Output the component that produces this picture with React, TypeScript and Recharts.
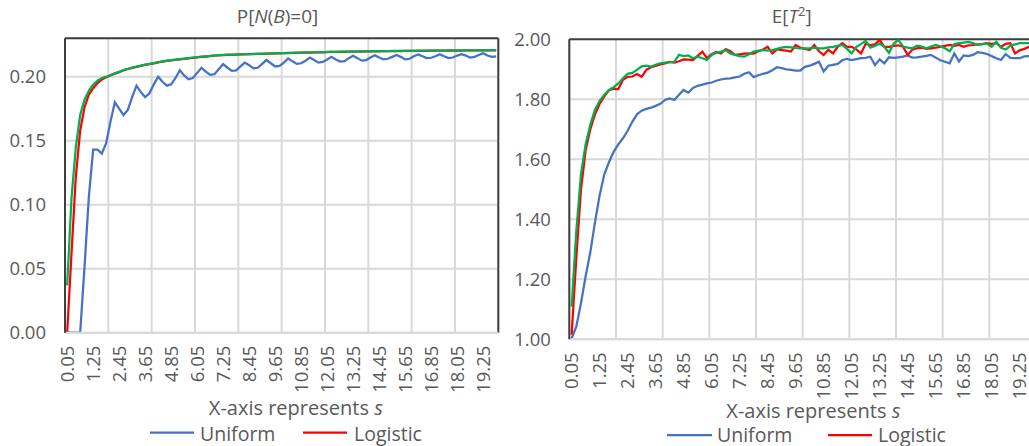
import { CartesianGrid, Line, LineChart, ReferenceLine, XAxis, YAxis } from 'recharts';

const FONT = '"Open Sans", "DejaVu Sans", sans-serif';
const TEXT = '#595959';
const FRAME = '#404040';
const GRID = '#d9d9d9';
const BLUE = '#4472C4';
const RED = '#FF0000';
const GREEN = '#00B050';

// s values (x categories)
const sValues = [
	0.05, 0.25, 0.45, 0.65, 0.85, 1.05, 1.25, 1.45, 1.65, 1.85,
	2.05, 2.25, 2.45, 2.65, 2.85, 3.05, 3.25, 3.45, 3.65, 3.85,
	4.05, 4.25, 4.45, 4.65, 4.85, 5.05, 5.25, 5.45, 5.65, 5.85,
	6.05, 6.25, 6.45, 6.65, 6.85, 7.05, 7.25, 7.45, 7.65, 7.85,
	8.05, 8.25, 8.45, 8.65, 8.85, 9.05, 9.25, 9.45, 9.65, 9.85,
	10.05, 10.25, 10.45, 10.65, 10.85, 11.05, 11.25, 11.45, 11.65, 11.85,
	12.05, 12.25, 12.45, 12.65, 12.85, 13.05, 13.25, 13.45, 13.65, 13.85,
	14.05, 14.25, 14.45, 14.65, 14.85, 15.05, 15.25, 15.45, 15.65, 15.85,
	16.05, 16.25, 16.45, 16.65, 16.85, 17.05, 17.25, 17.45, 17.65, 17.85,
	18.05, 18.25, 18.45, 18.65, 18.85, 19.05, 19.25, 19.45, 19.65, 19.85
];

const xTickLabels = [0.05, 1.25, 2.45, 3.65, 4.85, 6.05, 7.25, 8.45, 9.65, 10.85, 12.05, 13.25, 14.45, 15.65, 16.85, 18.05, 19.25];
const xGridLines = [-0.05, 1.95, 3.95, 5.95, 7.95, 9.95, 11.95, 13.95, 15.95, 17.95, 19.95];
const xDomain: [number, number] = [-0.05, 19.95];

// P[N(B)=0]
const pTicks = [0, 0.05, 0.1, 0.15, 0.2];
const pUniform = [
	0, 0, 0, 0, 0.051, 0.106, 0.143, 0.143, 0.14, 0.148,
	0.165, 0.18, 0.175, 0.17, 0.174, 0.184, 0.193, 0.188, 0.184, 0.187,
	0.194, 0.2, 0.196, 0.193, 0.194, 0.199, 0.205, 0.201, 0.198, 0.199,
	0.203, 0.207, 0.204, 0.2015, 0.202, 0.206, 0.2098, 0.207, 0.2046, 0.205,
	0.208, 0.211, 0.209, 0.2065, 0.207, 0.21, 0.213, 0.2105, 0.208, 0.2085,
	0.211, 0.2142, 0.212, 0.21, 0.2105, 0.2125, 0.215, 0.213, 0.211, 0.2115,
	0.2135, 0.2155, 0.2135, 0.2118, 0.2122, 0.2145, 0.2163, 0.2145, 0.2125, 0.213,
	0.215, 0.2168, 0.215, 0.2135, 0.214, 0.2155, 0.217, 0.2155, 0.2135, 0.214,
	0.216, 0.2173, 0.216, 0.2145, 0.2148, 0.216, 0.2176, 0.216, 0.2145, 0.215,
	0.2165, 0.2176, 0.2165, 0.215, 0.2155, 0.217, 0.2184, 0.2165, 0.2155, 0.2158
];
const pLogistic = [
	0, 0.062, 0.122, 0.158, 0.176, 0.186, 0.191, 0.195, 0.1978, 0.1995,
	0.201, 0.2024, 0.2036, 0.205, 0.206, 0.2069, 0.2077, 0.2085, 0.2092, 0.2098,
	0.2104, 0.2112, 0.2118, 0.2123, 0.2128, 0.2132, 0.2136, 0.214, 0.2144, 0.2148,
	0.2151, 0.2154, 0.2157, 0.216, 0.2164, 0.2166, 0.2168, 0.217, 0.2171, 0.2172,
	0.2174, 0.2175, 0.2176, 0.2177, 0.2178, 0.2179, 0.218, 0.2181, 0.2182, 0.2183,
	0.2184, 0.2185, 0.2186, 0.2187, 0.2188, 0.2189, 0.2189, 0.219, 0.2191, 0.2191,
	0.2192, 0.2193, 0.2193, 0.2194, 0.2194, 0.2195, 0.2195, 0.2196, 0.2196, 0.2197,
	0.2197, 0.2198, 0.2198, 0.2199, 0.2199, 0.22, 0.22, 0.22, 0.2201, 0.2201,
	0.2201, 0.2202, 0.2202, 0.2202, 0.2203, 0.2203, 0.2203, 0.2203, 0.2204, 0.2204,
	0.2204, 0.2204, 0.2205, 0.2205, 0.2205, 0.2205, 0.2205, 0.2206, 0.2206, 0.2206
];
const pThird = [
	0.037, 0.105, 0.145, 0.17, 0.182, 0.189, 0.194, 0.197, 0.199, 0.2,
	0.2013, 0.2026, 0.2038, 0.2052, 0.2062, 0.2071, 0.2079, 0.2087, 0.2094, 0.21,
	0.2106, 0.2114, 0.212, 0.2125, 0.213, 0.2134, 0.2138, 0.2142, 0.2146, 0.215,
	0.2153, 0.2156, 0.2159, 0.2162, 0.2166, 0.2168, 0.217, 0.2172, 0.2173, 0.2174,
	0.2175, 0.2176, 0.2177, 0.2178, 0.2179, 0.218, 0.2181, 0.2182, 0.2183, 0.2184,
	0.2185, 0.2186, 0.2187, 0.2188, 0.2189, 0.219, 0.219, 0.2191, 0.2192, 0.2192,
	0.2193, 0.2194, 0.2194, 0.2195, 0.2195, 0.2196, 0.2196, 0.2197, 0.2197, 0.2198,
	0.2198, 0.2199, 0.2199, 0.22, 0.22, 0.2201, 0.2201, 0.2201, 0.2202, 0.2202,
	0.2202, 0.2203, 0.2203, 0.2203, 0.2204, 0.2204, 0.2204, 0.2204, 0.2205, 0.2205,
	0.2205, 0.2205, 0.2206, 0.2206, 0.2206, 0.2206, 0.2206, 0.2207, 0.2207, 0.2207
];

// E[T^2]
const eTicks = [1, 1.2, 1.4, 1.6, 1.8, 2];
const eUniform = [
	1.003, 1.042, 1.12, 1.21, 1.29, 1.39, 1.48, 1.55, 1.59, 1.625,
	1.65, 1.67, 1.695, 1.725, 1.75, 1.762, 1.768, 1.772, 1.778, 1.785,
	1.798, 1.803, 1.798, 1.815, 1.831, 1.822, 1.838, 1.845, 1.849, 1.853,
	1.856, 1.862, 1.866, 1.869, 1.87, 1.873, 1.876, 1.885, 1.89, 1.874,
	1.88, 1.885, 1.889, 1.897, 1.907, 1.904, 1.9, 1.898, 1.896, 1.896,
	1.908, 1.912, 1.918, 1.925, 1.893, 1.912, 1.915, 1.918, 1.93, 1.935,
	1.931, 1.934, 1.937, 1.938, 1.942, 1.914, 1.933, 1.92, 1.94, 1.938,
	1.94, 1.942, 1.946, 1.939, 1.94, 1.942, 1.945, 1.948, 1.939, 1.93,
	1.925, 1.92, 1.953, 1.926, 1.946, 1.944, 1.948, 1.957, 1.955, 1.951,
	1.944, 1.937, 1.931, 1.951, 1.938, 1.937, 1.937, 1.943, 1.944, 1.94
];
const eLogistic = [
	1.015, 1.27, 1.5, 1.63, 1.7, 1.75, 1.785, 1.81, 1.83, 1.835,
	1.834, 1.865, 1.875, 1.876, 1.884, 1.875, 1.898, 1.907, 1.911, 1.916,
	1.92, 1.925, 1.922, 1.927, 1.933, 1.932, 1.931, 1.945, 1.959, 1.937,
	1.95, 1.958, 1.953, 1.967, 1.96, 1.948, 1.95, 1.952, 1.953, 1.952,
	1.96, 1.966, 1.975, 1.953, 1.966, 1.964, 1.962, 1.959, 1.981, 1.972,
	1.968, 1.964, 1.981, 1.96, 1.948, 1.965, 1.953, 1.975, 1.987, 1.975,
	1.975, 1.966, 1.953, 1.985, 1.981, 1.983, 1.998, 1.975, 1.975, 1.978,
	1.98, 1.975, 1.948, 1.965, 1.97, 1.972, 1.968, 1.97, 1.972, 1.975,
	1.978, 1.981, 1.978, 1.981, 1.975, 1.98, 1.981, 1.983, 1.984, 1.987,
	1.985, 1.987, 1.975, 1.985, 1.987, 1.953, 1.963, 1.968, 1.975, 1.978
];
const eThird = [
	1.109, 1.36, 1.55, 1.65, 1.715, 1.765, 1.795, 1.815, 1.831, 1.84,
	1.853, 1.87, 1.885, 1.888, 1.898, 1.91, 1.912, 1.909, 1.915, 1.92,
	1.922, 1.923, 1.925, 1.948, 1.944, 1.946, 1.937, 1.942, 1.937, 1.931,
	1.948, 1.955, 1.959, 1.964, 1.953, 1.948, 1.944, 1.942, 1.95, 1.959,
	1.962, 1.964, 1.962, 1.964, 1.968, 1.972, 1.975, 1.973, 1.971, 1.97,
	1.97, 1.97, 1.972, 1.97, 1.97, 1.973, 1.975, 1.978, 1.981, 1.968,
	1.953, 1.975, 1.984, 1.995, 1.972, 1.978, 1.986, 1.975, 1.955, 1.985,
	1.998, 1.976, 1.972, 1.97, 1.979, 1.976, 1.97, 1.976, 1.981, 1.977,
	1.97, 1.96, 1.984, 1.987, 1.989, 1.991, 1.987, 1.982, 1.984, 1.986,
	1.975, 1.992, 1.972, 1.966, 1.979, 1.983, 1.987, 1.987, 1.987, 1.988
];

const pData = sValues.map((s, i) => ({ s, uniform: pUniform[i], logistic: pLogistic[i], third: pThird[i] }));
const eData = sValues.map((s, i) => ({ s, uniform: eUniform[i], logistic: eLogistic[i], third: eThird[i] }));

function RotatedTick({ x, y, payload }: { x?: number; y?: number; payload?: { value: number } }) {
	return (
		<text
			x={x}
			y={y}
			dy="0.36em"
			transform={`rotate(-90, ${x}, ${y})`}
			textAnchor="end"
			fill={TEXT}
			fontSize={18.5}
			fontFamily={FONT}
		>
			{Number(payload?.value ?? 0).toFixed(2)}
		</text>
	);
}

type LegendItem = { label: string; color: string; x1: number; x2: number; textX: number };

type PanelProps = {
	left: number;
	width: number;
	data: typeof pData;
	yDomain: [number, number];
	yTicks: number[];
	yAxisWidth: number;
	yTickMargin: number;
	margin: { top: number; right: number; bottom: number };
	title: React.ReactNode;
	titleX: number;
	axisTitleX: number;
	axisTitleY: number;
	legendLineY: number;
	legendTextY: number;
	legend: LegendItem[];
};

function Panel(props: PanelProps) {
	const { left, width, data, yDomain, yTicks, margin } = props;
	return (
		<div style={{ position: 'absolute', left, top: 0, width, height: 446 }}>
			<LineChart
				width={width}
				height={446}
				data={data}
				margin={{ top: margin.top, right: margin.right, bottom: margin.bottom, left: 0 }}
			>
				<CartesianGrid xAxisId="grid" stroke={GRID} strokeWidth={2} />
				<XAxis
					dataKey="s"
					type="number"
					domain={xDomain}
					allowDataOverflow
					ticks={xTickLabels}
					interval={0}
					height={60}
					tickLine={false}
					tickMargin={7}
					axisLine={{ stroke: GRID, strokeWidth: 2 }}
					tick={<RotatedTick />}
				/>
				<XAxis xAxisId="grid" dataKey="s" type="number" domain={xDomain} allowDataOverflow ticks={xGridLines} hide />
				<YAxis
					type="number"
					domain={yDomain}
					allowDataOverflow
					ticks={yTicks}
					width={props.yAxisWidth}
					tickLine={false}
					tickMargin={props.yTickMargin}
					axisLine={{ stroke: FRAME, strokeWidth: 2 }}
					tickFormatter={(v: number) => v.toFixed(2)}
					tick={{ fill: TEXT, fontSize: 18.5, fontFamily: FONT }}
				/>
				<ReferenceLine y={yDomain[1]} stroke={FRAME} strokeWidth={2} />
				<ReferenceLine x={xDomain[1]} stroke={FRAME} strokeWidth={2} />
				<Line dataKey="uniform" name="Uniform" stroke={BLUE} strokeWidth={2.25} dot={false} isAnimationActive={false} />
				<Line dataKey="logistic" name="Logistic" stroke={RED} strokeWidth={2.25} dot={false} isAnimationActive={false} />
				<Line dataKey="third" stroke={GREEN} strokeWidth={2.25} dot={false} isAnimationActive={false} />
			</LineChart>
			<svg
				width={width}
				height={446}
				style={{ position: 'absolute', left: 0, top: 0, pointerEvents: 'none' }}
				fontFamily={FONT}
			>
				<text x={props.titleX} y={22.5} textAnchor="middle" fontSize={19} fill={TEXT}>
					{props.title}
				</text>
				<text x={props.axisTitleX} y={props.axisTitleY} textAnchor="middle" fontSize={20} fill={TEXT}>
					X-axis represents <tspan fontStyle="italic">s</tspan>
				</text>
				{props.legend.map((item) => (
					<g key={item.label}>
						<line
							x1={item.x1}
							x2={item.x2}
							y1={props.legendLineY}
							y2={props.legendLineY}
							stroke={item.color}
							strokeWidth={2.25}
						/>
						<text x={item.textX} y={props.legendTextY} fontSize={19.5} fill={TEXT}>
							{item.label}
						</text>
					</g>
				))}
			</svg>
		</div>
	);
}

export default function App() {
	return (
		<div
			style={{
				position: 'absolute',
				left: 0,
				top: 0,
				width: 1029,
				height: 446,
				overflow: 'hidden',
				background: '#ffffff'
			}}
		>
			<Panel
				left={0}
				width={510}
				data={pData}
				yDomain={[0, 0.23]}
				yTicks={pTicks}
				yAxisWidth={65}
				yTickMargin={13}
				margin={{ top: 38.3, right: 11.7, bottom: 53.3 }}
				title={
					<>
						P[<tspan fontStyle="italic">N</tspan>(<tspan fontStyle="italic">B</tspan>)=0]
					</>
				}
				titleX={277.5}
				axisTitleX={295.8}
				axisTitleY={414.5}
				legendLineY={432.7}
				legendTextY={440.5}
				legend={[
					{ label: 'Uniform', color: BLUE, x1: 150, x2: 194, textX: 200 },
					{ label: 'Logistic', color: RED, x1: 303, x2: 347, textX: 354 }
				]}
			/>
			<Panel
				left={510}
				width={540}
				data={eData}
				yDomain={[1, 2]}
				yTicks={eTicks}
				yAxisWidth={59.3}
				yTickMargin={12.5}
				margin={{ top: 39.3, right: 14, bottom: 46.7 }}
				title={
					<>
						E[<tspan fontStyle="italic">T</tspan>
						<tspan dy={-7} fontSize={13}>2</tspan>
						<tspan dy={7}>]</tspan>
					</>
				}
				titleX={281.7}
				axisTitleX={303.3}
				axisTitleY={418}
				legendLineY={435}
				legendTextY={441.5}
				legend={[
					{ label: 'Uniform', color: BLUE, x1: 157, x2: 202, textX: 207 },
					{ label: 'Logistic', color: RED, x1: 318, x2: 362, textX: 368 }
				]}
			/>
		</div>
	);
}
